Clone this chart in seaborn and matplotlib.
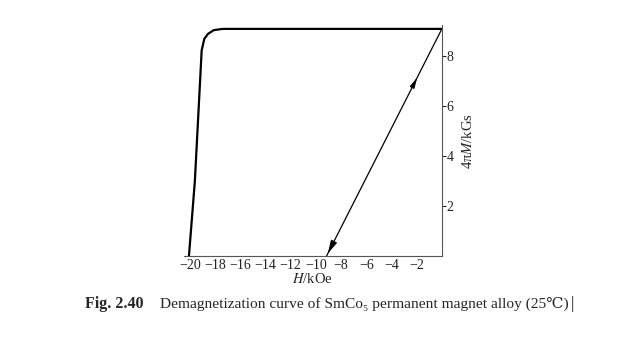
import matplotlib
matplotlib.use("Agg")
import matplotlib.pyplot as plt
import seaborn as sns
import pandas as pd

# Data
H_demag = [-20.07, -19.6, -19.06, -18.85, -18.56, -18.1, -17.4, 0.0]
M_demag = [0.0, 3.0, 8.24, 8.7, 8.9, 9.05, 9.1, 9.1]
H_recoil = [0.0, -9.15]
M_recoil = [9.1, 0.0]
x_ticks = [-20, -18, -16, -14, -12, -10, -8, -6, -4, -2]
y_ticks = [2, 4, 6, 8]

sns.set_style("white")
FAM = ['Liberation Serif', 'DejaVu Serif', 'Noto Sans CJK SC']
plt.rcParams['font.family'] = FAM
plt.rcParams['mathtext.fontset'] = 'stix'

fig = plt.figure(figsize=(6.2, 3.38), dpi=100)
ax = fig.add_axes([0.296, 0.2426, 0.4167, 0.683])

df1 = pd.DataFrame({"H": H_demag, "M": M_demag})
df2 = pd.DataFrame({"H": H_recoil, "M": M_recoil})
sns.lineplot(data=df1, x="H", y="M", sort=False, color="black", lw=1.6, ax=ax)
sns.lineplot(data=df2, x="H", y="M", sort=False, color="black", lw=0.9, ax=ax)

# arrows on recoil line
def pt(f):
    return (H_recoil[0] + f * (H_recoil[1] - H_recoil[0]),
            M_recoil[0] + f * (M_recoil[1] - M_recoil[0]))
ax.annotate("", xy=pt(0.205), xytext=pt(0.27),
            arrowprops=dict(arrowstyle="-|>,head_length=0.6,head_width=0.15", color="black", lw=0.8))
ax.annotate("", xy=pt(1.0), xytext=pt(0.93),
            arrowprops=dict(arrowstyle="-|>,head_length=0.8,head_width=0.2", color="black", lw=0.8))

ax.set_xlim(-20.5, 0)
ax.set_ylim(0, 9.25)
for s in ["top", "left"]:
    ax.spines[s].set_visible(False)
for s in ["bottom", "right"]:
    ax.spines[s].set_color("#555555")
    ax.spines[s].set_linewidth(0.8)

ax.set_xticks(x_ticks)
ax.set_xticklabels([f"\u2212{abs(v)}" for v in x_ticks])
ax.set_yticks(y_ticks)
ax.yaxis.tick_right()
ax.yaxis.set_label_position("right")
ax.tick_params(axis="x", direction="in", length=3, width=0.8, labelsize=10, pad=2, colors="#222222")
ax.tick_params(axis="y", direction="out", length=3, width=0.8, labelsize=10, pad=0.5, colors="#222222")

ax.set_xlabel("$H$/kOe", fontsize=10.5, labelpad=0)
ax.set_ylabel("4π$M$/kGs", fontsize=10.5, labelpad=5, rotation=90)
ax.set_facecolor("white")

fig.text(0.137, 0.10, "Fig. 2.40", fontsize=11.5, fontweight="bold", va="center")
fig.text(0.258, 0.10, "Demagnetization curve of SmCo\u2085 permanent magnet alloy (25\u2103)",
         fontsize=11.1, va="center", family=FAM)
fig.text(0.921, 0.10, "|", fontsize=12, va="center")

fig.savefig("out.png", dpi=100, facecolor="white")
